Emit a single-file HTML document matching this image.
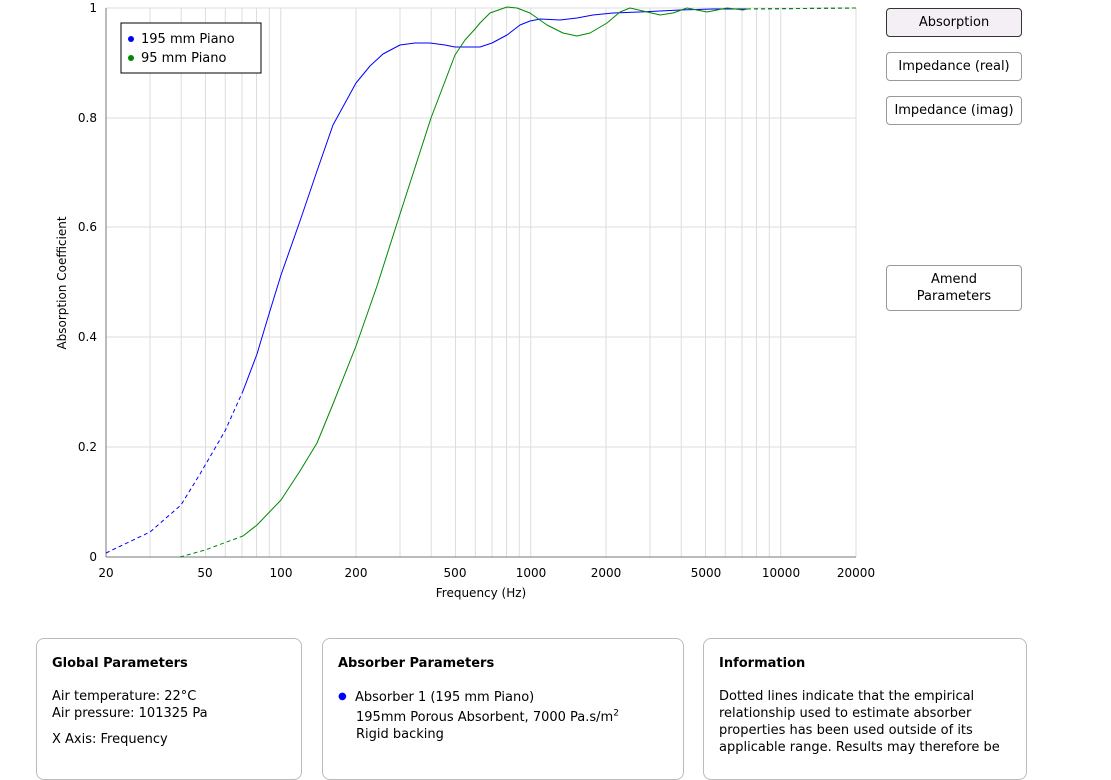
<!DOCTYPE html><html><head><style>
body{margin:0;width:1111px;height:745px;overflow:hidden;background:#fff;font-family:"DejaVu Sans","Liberation Sans",sans-serif;font-size:13px;color:#000}
.btn{position:absolute;left:886px;width:134px;border:1px solid #999;border-radius:4px;text-align:center;font-size:13px;background:#fff}
.card{position:absolute;top:638px;height:140px;border:1px solid #bbb;border-radius:8px;background:#fff}
.card b{display:block;margin:17px 0 17px 15px;font-size:13px}
.card p{margin:0 0 0 15px;line-height:17px}
</style></head><body>
<svg width="1111" height="640" style="position:absolute;left:0;top:0" font-family="DejaVu Sans, Liberation Sans, sans-serif" font-size="12">
<g stroke="#ddd" stroke-width="1" id="g"></g>
<g stroke="#ddd">
<line x1="106" y1="118" x2="856" y2="118"/><line x1="106" y1="227" x2="856" y2="227"/><line x1="106" y1="337" x2="856" y2="337"/><line x1="106" y1="447" x2="856" y2="447"/>
</g>
<line x1="106" y1="557" x2="856" y2="557" stroke="#777"/>
<line x1="106" y1="8" x2="106" y2="557" stroke="#777"/>
<g text-anchor="end"><text x="97" y="12">1</text><text x="97" y="122">0.8</text><text x="97" y="231">0.6</text><text x="97" y="341">0.4</text><text x="97" y="451">0.2</text><text x="97" y="561">0</text></g>
<g text-anchor="middle"><text x="106" y="577">20</text><text x="205" y="577">50</text><text x="281" y="577">100</text><text x="356" y="577">200</text><text x="455" y="577">500</text><text x="531" y="577">1000</text><text x="606" y="577">2000</text><text x="706" y="577">5000</text><text x="781" y="577">10000</text><text x="856" y="577">20000</text>
<text x="481" y="597">Frequency (Hz)</text>
<text transform="translate(66,283) rotate(-90)">Absorption Coefficient</text></g>
<g fill="none" stroke-width="1" stroke-linejoin="round">
<polyline stroke="#00f" stroke-dasharray="4,3" points="106,553 150,532 181,505 200,474 225,431 243,391"/>
<polyline stroke="#00f" points="243,391 257,354 269,314 281,275 300,221 317,171 333,125 356,83 370,66 383,54 400,45 415,43 430,43 445,45 455,47 475,47 480,47 492,43 507,35 520,25 530,21 540,19 560,20 577,18 593,15 613,13 640,12 660,11 680,10 713,9 747,9"/>
<polyline stroke="#00f" stroke-dasharray="4,3" points="747,9 856,8"/>
<polyline stroke="#080" stroke-dasharray="4,3" points="180,557 205,550 243,536"/>
<polyline stroke="#080" points="243,536 257,525 281,500 300,471 317,443 333,404 356,346 377,286 400,214 431,118 455,55 465,40 475,29 480,23 490,13 507,7 517,8 530,13 547,25 563,33 577,36 590,33 607,23 620,12 630,8 643,11 660,15 673,13 687,8 707,12 727,8 743,10 747,9"/>
<polyline stroke="#080" stroke-dasharray="4,3" points="747,9 856,8"/>
</g>
<rect x="121" y="23" width="140" height="50" fill="#fff" stroke="#000"/>
<circle cx="131" cy="39" r="3" fill="#00f"/><text x="141" y="43" font-size="13">195 mm Piano</text>
<circle cx="131" cy="58" r="3" fill="#080"/><text x="141" y="62" font-size="13">95 mm Piano</text>
</svg>
<script>
var g=document.getElementById('g'),s='';
[30,40,50,60,70,80,90,100,200,300,400,500,600,700,800,900,1000,2000,3000,4000,5000,6000,7000,8000,9000,10000,20000].forEach(function(f){var x=106+250*Math.log10(f/20);s+='<line x1="'+x+'" y1="8" x2="'+x+'" y2="557"/>';});
s+='<line x1="106" y1="8" x2="856" y2="8"/>';
g.innerHTML=s;
</script>
<div class="btn" style="top:8px;height:27px;line-height:27px;background:#f3eff5;border-color:#333">Absorption</div>
<div class="btn" style="top:52px;height:27px;line-height:27px">Impedance (real)</div>
<div class="btn" style="top:96px;height:27px;line-height:27px">Impedance (imag)</div>
<div class="btn" style="top:265px;height:44px;line-height:17px;display:flex;align-items:center;justify-content:center">Amend<br>Parameters</div>
<div class="card" style="left:36px;width:264px"><b>Global Parameters</b><p>Air temperature: 22°C<br>Air pressure: 101325 Pa</p><p style="margin-top:9px">X Axis: Frequency</p></div>
<div class="card" style="left:322px;width:360px"><b>Absorber Parameters</b><p><span style="color:#00f;font-size:10px;vertical-align:2px">●</span>&nbsp; Absorber 1 (195 mm Piano)<br><span style="margin-left:18px">195mm Porous Absorbent, 7000 Pa.s/m<sup style="font-size:9px">2</sup></span><br><span style="margin-left:18px">Rigid backing</span></p></div>
<div class="card" style="left:703px;width:322px"><b>Information</b><p>Dotted lines indicate that the empirical<br>relationship used to estimate absorber<br>properties has been used outside of its<br>applicable range. Results may therefore be</p></div>
</body></html>
